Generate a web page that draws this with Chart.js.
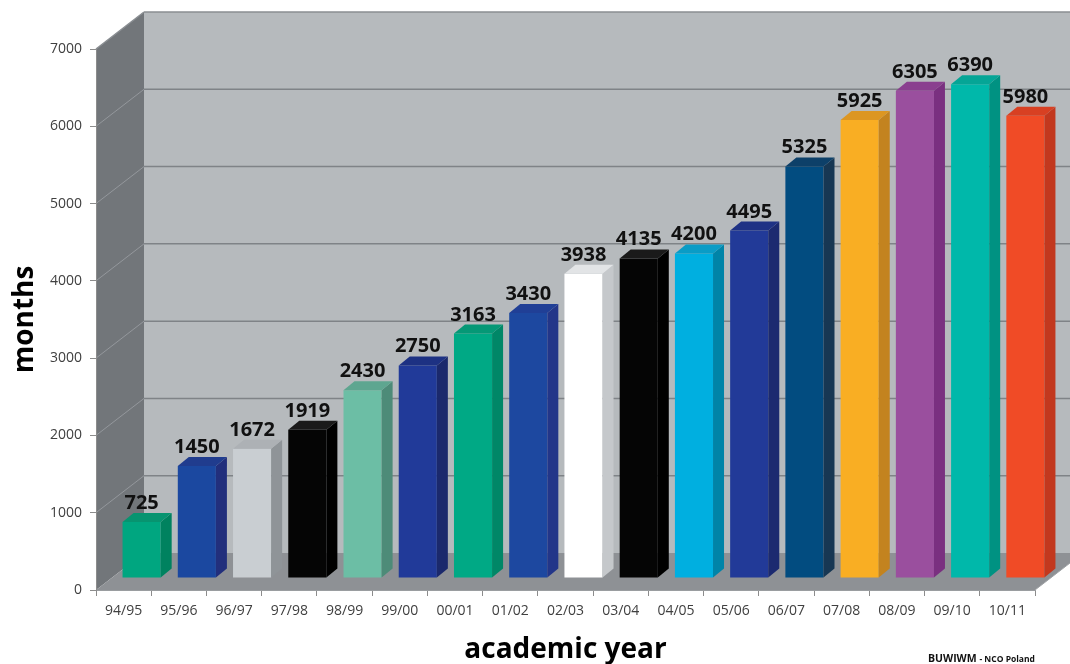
<!DOCTYPE html>
<html>
<head>
<meta charset="utf-8">
<script src="https://cdn.jsdelivr.net/npm/chart.js@4.4.0/dist/chart.umd.min.js"></script>
<style>
  html, body { margin: 0; padding: 0; background: #fff; }
  #wrap { width: 1070px; height: 664px; }
</style>
</head>
<body>
<div id="wrap"><canvas id="chart" width="1070" height="664"></canvas></div>
<script>
// academic years and total months per year
const years = ['94/95', '95/96', '96/97', '97/98', '98/99', '99/00', '00/01', '01/02', '02/03',
    '03/04', '04/05', '05/06', '06/07', '07/08', '08/09', '09/10', '10/11'];
const months = [725, 1450, 1672, 1919, 2430, 2750, 3163, 3430, 3938,
    4135, 4200, 4495, 5325, 5925, 6305, 6390, 5980];
const yMin = 0;
const yMax = 7000;
const yStep = 1000;

// face colours of each column: front, right side, top
const frontColors = ['#00a680', '#1b48a0', '#c9ced2', '#050505', '#6cbea5', '#213a99', '#00a985', '#1d48a0', '#ffffff',
    '#050505', '#00afe0', '#223a98', '#024c80', '#f9ae23', '#9a4f9e', '#00b8aa', '#f04b26'];
const sideColors = ['#00825f', '#222f7c', '#8f9498', '#000000', '#4d8b78', '#1b296c', '#008767', '#233689', '#c5c8cb',
    '#000000', '#0084a8', '#1c2a70', '#173753', '#c3831f', '#7a3080', '#009282', '#c2381e'];
const topColors = ['#079470', '#203c8e', '#adb1b5', '#1a1a1a', '#5ea690', '#1d3183', '#059876', '#203f96', '#e2e4e6',
    '#1a1a1a', '#0a9cc6', '#1f3285', '#0d4069', '#dc9622', '#8a3f8f', '#05a596', '#d84022'];

// pseudo-3D depth offsets (px)
const WALL_DX = 48, WALL_DY = -37;   // back wall relative to the axis plane
const SHIFT_X = 18, SHIFT_Y = -12;   // column front faces pushed into the floor
const BAR_DX = 11, BAR_DY = -9;      // column depth

const FONT = "'Open Sans', sans-serif";

function poly(ctx, pts) {
    ctx.beginPath();
    ctx.moveTo(pts[0][0], pts[0][1]);
    for (let i = 1; i < pts.length; i++) ctx.lineTo(pts[i][0], pts[i][1]);
    ctx.closePath();
    ctx.fill();
}

function line(ctx, x0, y0, x1, y1) {
    ctx.beginPath();
    ctx.moveTo(x0, y0);
    ctx.lineTo(x1, y1);
    ctx.stroke();
}

const box3d = {
    id: 'box3d',
    beforeDraw(chart) {
        const { ctx, chartArea: a, scales: { y } } = chart;
        const fTop = y.getPixelForValue(yMax);
        const fBase = y.getPixelForValue(yMin);
        const bx0 = a.left + WALL_DX, bx1 = a.right + WALL_DX;
        const bTop = fTop + WALL_DY, bBase = fBase + WALL_DY;

        ctx.save();
        // back wall
        ctx.fillStyle = '#b6babd';
        ctx.fillRect(bx0, bTop, bx1 - bx0, bBase - bTop);
        // left side wall
        ctx.fillStyle = '#72767a';
        poly(ctx, [[a.left, fTop], [bx0, bTop], [bx0, bBase], [a.left, fBase]]);
        // floor
        ctx.fillStyle = '#8e9195';
        poly(ctx, [[a.left, fBase], [a.right, fBase], [bx1, bBase], [bx0, bBase]]);

        // grid lines on the back wall and the side wall
        y.ticks.forEach(t => {
            if (t.value <= yMin || t.value >= yMax) return;
            const py = y.getPixelForValue(t.value);
            ctx.strokeStyle = '#7f8387';
            ctx.lineWidth = 1.5;
            line(ctx, bx0, py + WALL_DY, bx1, py + WALL_DY);
            ctx.strokeStyle = 'rgba(170,174,178,0.6)';
            ctx.lineWidth = 1;
            line(ctx, a.left, py, bx0, py + WALL_DY);
        });

        // outer edges
        ctx.strokeStyle = '#8a8e92';
        ctx.lineWidth = 1.5;
        line(ctx, bx0, bTop, bx1, bTop);
        line(ctx, a.left, fTop, bx0, bTop);
        ctx.strokeStyle = '#a0a3a6';
        ctx.lineWidth = 1;
        line(ctx, a.right, fBase, bx1, bBase);
        ctx.restore();
    },
    beforeDatasetsDraw(chart) {
        chart.ctx.save();
        chart.ctx.translate(SHIFT_X, SHIFT_Y);
    },
    afterDatasetsDraw(chart) {
        const ctx = chart.ctx;
        ctx.restore();
        const meta = chart.getDatasetMeta(0);
        ctx.save();
        meta.data.forEach((bar, i) => {
            const { x, y, base, width } = bar.getProps(['x', 'y', 'base', 'width'], true);
            const l = x - width / 2 + SHIFT_X, r = x + width / 2 + SHIFT_X;
            const t = y + SHIFT_Y, b = base + SHIFT_Y;
            ctx.fillStyle = sideColors[i];
            poly(ctx, [[r, t], [r + BAR_DX, t + BAR_DY], [r + BAR_DX, b + BAR_DY], [r, b]]);
            ctx.fillStyle = topColors[i];
            poly(ctx, [[l, t], [l + BAR_DX, t + BAR_DY], [r + BAR_DX, t + BAR_DY], [r, t]]);

            // value label above the column
            ctx.fillStyle = '#111';
            ctx.font = 'bold 20px ' + FONT;
            ctx.textAlign = 'center';
            ctx.textBaseline = 'alphabetic';
            ctx.fillText(String(months[i]), (l + r) / 2, t + BAR_DY - 4);
        });
        ctx.restore();
    },
    afterDraw(chart) {
        const ctx = chart.ctx;
        ctx.save();
        ctx.fillStyle = '#111';
        ctx.textBaseline = 'alphabetic';
        ctx.textAlign = 'left';
        ctx.font = 'bold 10.5px ' + FONT;
        const first = 'BUWIWM ';
        ctx.fillText(first, 928, 662);
        const w = ctx.measureText(first).width;
        ctx.font = 'bold 8.5px ' + FONT;
        ctx.fillText('- NCO Poland', 928 + w, 662);
        ctx.restore();
    }
};

function initChart(canvasId) {
    const ctx = document.getElementById(canvasId).getContext('2d');
    return new Chart(ctx, {
        type: 'bar',
        data: {
            labels: years,
            datasets: [{
                data: months,
                backgroundColor: frontColors,
                borderWidth: 0,
                barPercentage: 0.69,
                categoryPercentage: 1,
                clip: false
            }]
        },
        options: {
            responsive: false,
            animation: false,
            devicePixelRatio: 1,
            layout: { padding: { top: 49, right: 35, left: 0, bottom: 0 } },
            plugins: { legend: { display: false }, tooltip: { enabled: false } },
            scales: {
                x: {
                    afterFit(scale) { scale.height = 74; },
                    grid: { drawOnChartArea: false, tickLength: 6, color: '#8c8c8c', offset: true },
                    border: { color: '#9a9da0' },
                    ticks: {
                        color: '#404040',
                        font: { family: FONT, size: 14 },
                        maxRotation: 0,
                        autoSkip: false,
                        padding: 7
                    },
                    title: {
                        display: true,
                        text: 'academic year',
                        color: '#000',
                        font: { family: FONT, size: 28, weight: 'bold', lineHeight: 1 },
                        padding: { top: 1, bottom: 0 }
                    }
                },
                y: {
                    min: yMin,
                    max: yMax,
                    afterFit(scale) { scale.width = 96; },
                    grid: { drawOnChartArea: false, tickLength: 6, color: '#8c8c8c' },
                    border: { color: '#8c8c8c' },
                    ticks: {
                        stepSize: yStep,
                        color: '#404040',
                        font: { family: FONT, size: 14 },
                        padding: 8,
                        callback: (v) => String(v)
                    },
                    title: {
                        display: true,
                        text: 'months',
                        color: '#000',
                        font: { family: FONT, size: 28, weight: 'bold', lineHeight: 1 },
                        padding: { top: 11, bottom: 0 }
                    }
                }
            }
        },
        plugins: [box3d]
    });
}

initChart('chart');
</script>
</body>
</html>
